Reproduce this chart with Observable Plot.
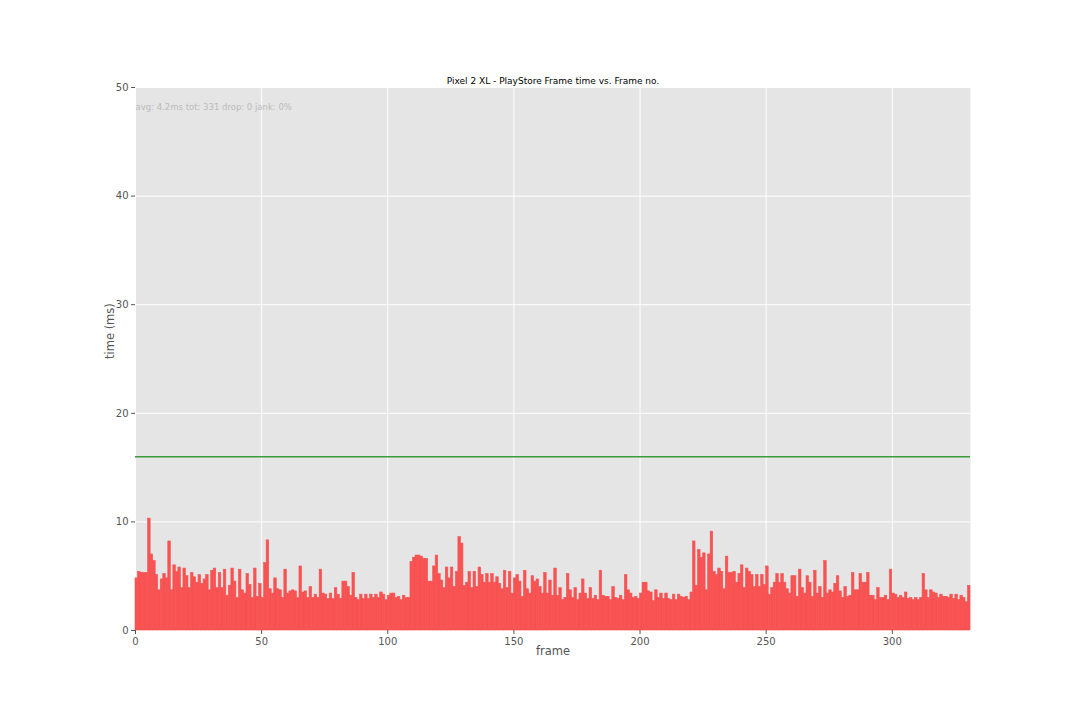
<!DOCTYPE html>
<html>
<head>
<meta charset="utf-8">
<script src="https://cdn.jsdelivr.net/npm/d3@7"></script>
<script src="https://cdn.jsdelivr.net/npm/@observablehq/plot@0.6"></script>
<style>
  html, body { margin: 0; padding: 0; background: #ffffff; }
  #chart { width: 1080px; height: 720px; }
</style>
</head>
<body>
<div id="chart"></div>
<script>
const chartTitle = "Pixel 2 XL - PlayStore Frame time vs. Frame no.";
const statsText = "avg: 4.2ms tot: 331 drop: 0 jank: 0%";
const xLabel = "frame";
const yLabel = "time (ms)";
const xTicks = [0, 50, 100, 150, 200, 250, 300];
const yTicks = [0, 10, 20, 30, 40, 50];
const jankThreshold = 16;

const frameTimes = [
  // 0-27
  4.8, 5.4, 5.3, 5.3, 5.3, 10.3, 7.0, 6.4, 5.1, 3.7, 4.7, 5.2, 4.8, 8.2, 3.7, 6.0, 5.4, 5.8, 3.9, 5.7, 5.0, 3.9, 5.3, 4.9, 4.4, 5.1, 4.3, 4.7,
  // 28-55
  5.1, 3.7, 5.5, 5.7, 3.9, 5.3, 3.9, 5.6, 3.2, 4.1, 5.7, 4.5, 3.0, 5.6, 3.7, 3.4, 5.2, 4.2, 3.0, 5.7, 3.1, 4.3, 3.0, 6.2, 8.3, 3.8, 3.4, 4.8,
  // 56-82
  3.8, 3.7, 3.0, 5.6, 3.4, 3.6, 3.7, 3.6, 3.0, 5.9, 3.5, 3.6, 3.0, 4.0, 3.0, 3.3, 3.0, 5.6, 3.4, 3.3, 2.9, 3.4, 2.9, 3.9, 3.3, 2.9, 4.5,
  // 83-110
  4.5, 4.0, 3.2, 5.3, 3.0, 2.8, 3.3, 2.9, 3.3, 2.9, 3.3, 3.0, 3.3, 3.0, 3.5, 3.3, 2.8, 3.2, 3.4, 3.4, 3.0, 3.1, 2.8, 3.2, 3.0, 3.0, 6.3, 6.7,
  // 111-138
  6.9, 6.9, 6.8, 6.6, 6.6, 4.5, 4.5, 5.9, 6.9, 5.2, 4.6, 3.9, 5.8, 4.8, 5.8, 4.0, 5.4, 8.6, 8.0, 4.1, 4.4, 5.4, 3.9, 5.4, 4.0, 5.8, 5.1, 4.4,
  // 139-166
  5.2, 4.4, 5.2, 4.4, 4.9, 4.3, 3.8, 5.5, 3.9, 5.4, 3.4, 4.8, 5.1, 4.5, 3.1, 5.5, 3.8, 3.4, 5.0, 4.5, 4.7, 4.0, 3.4, 5.3, 3.4, 4.6, 3.2, 5.7,
  // 167-194
  3.2, 3.9, 2.8, 3.0, 5.2, 3.7, 3.0, 3.9, 2.8, 3.4, 4.7, 3.4, 2.9, 3.9, 2.9, 3.2, 2.8, 5.5, 3.2, 3.1, 3.1, 2.8, 4.0, 3.0, 2.9, 3.2, 2.8, 5.1,
  // 195-221
  3.7, 3.4, 3.0, 3.1, 2.9, 3.4, 4.4, 4.4, 3.6, 3.5, 2.7, 3.7, 3.0, 3.4, 2.9, 3.4, 2.9, 2.8, 3.3, 2.8, 3.3, 3.1, 3.0, 3.1, 2.8, 3.5, 8.2,
  // 222-249
  4.1, 7.4, 6.7, 7.1, 3.7, 7.0, 9.1, 5.4, 5.1, 5.7, 5.4, 3.8, 6.8, 5.3, 5.3, 5.4, 4.4, 5.2, 6.0, 3.9, 5.7, 5.4, 5.1, 4.0, 5.1, 4.0, 5.1, 4.2,
  // 250-277
  5.9, 3.3, 3.9, 4.4, 5.2, 4.4, 5.2, 4.4, 3.8, 3.4, 5.0, 5.0, 3.1, 5.6, 3.9, 3.4, 5.0, 4.4, 3.1, 5.5, 3.4, 4.0, 3.0, 6.4, 3.4, 3.7, 3.5, 4.3,
  // 278-305
  5.0, 3.6, 3.0, 4.0, 3.1, 3.2, 5.3, 3.7, 3.7, 5.2, 4.4, 4.4, 5.3, 3.2, 3.2, 2.8, 3.9, 3.0, 3.0, 3.2, 2.8, 5.6, 3.4, 3.3, 3.0, 3.2, 3.0, 3.5,
  // 306-330
  2.9, 3.0, 2.8, 3.0, 2.8, 3.0, 5.2, 3.7, 3.0, 3.7, 3.5, 3.4, 3.0, 3.3, 3.1, 3.1, 3.0, 3.3, 2.9, 3.3, 2.8, 3.2, 3.0, 2.6, 4.1
];

const frames = frameTimes.map((t, i) => ({frame: i, time: t}));

const font = "DejaVu Sans, sans-serif";

const chart = Plot.plot({
  width: 1080,
  height: 720,
  marginLeft: 135,
  marginRight: 110,
  marginTop: 87,
  marginBottom: 90,
  style: {fontFamily: font, fontSize: "10px", background: "#ffffff", color: "#555555"},
  x: {domain: [0, frameTimes.length], ticks: xTicks, label: null},
  y: {domain: [0, 50], ticks: yTicks, label: null},
  marks: [
    Plot.frame({fill: "#e5e5e5", stroke: null}),
    Plot.gridX(xTicks, {stroke: "#ffffff", strokeOpacity: 1, strokeWidth: 1}),
    Plot.gridY(yTicks, {stroke: "#ffffff", strokeOpacity: 1, strokeWidth: 1}),
    Plot.rectY(frames, {x1: "frame", x2: d => d.frame + 1, y: "time", fill: "#f85252", stroke: "#f85252", strokeWidth: 0.6, inset: 0}),
    Plot.ruleY([jankThreshold], {stroke: "#3c9a3c", strokeWidth: 1.6}),
    Plot.axisX(xTicks, {tickSize: 4, tickPadding: 3, stroke: "#555555", fill: "#555555", fontSize: 10, label: null}),
    Plot.axisY(yTicks, {tickSize: 4, tickPadding: 3, stroke: "#555555", fill: "#555555", fontSize: 10, label: null}),
    Plot.text([chartTitle], {frameAnchor: "top", dy: -10, fontSize: 9, fill: "#000000"}),
    Plot.text([statsText], {frameAnchor: "top-left", dx: 0, dy: 16, textAnchor: "start", fontSize: 8.5, fill: "#bbbbbb"}),
    Plot.text([xLabel], {frameAnchor: "bottom", dy: 24, fontSize: 11.5, fill: "#555555"}),
    Plot.text([yLabel], {frameAnchor: "left", dx: -25, rotate: -90, fontSize: 11.5, fill: "#555555"})
  ]
});

document.getElementById("chart").appendChild(chart);
</script>
</body>
</html>
